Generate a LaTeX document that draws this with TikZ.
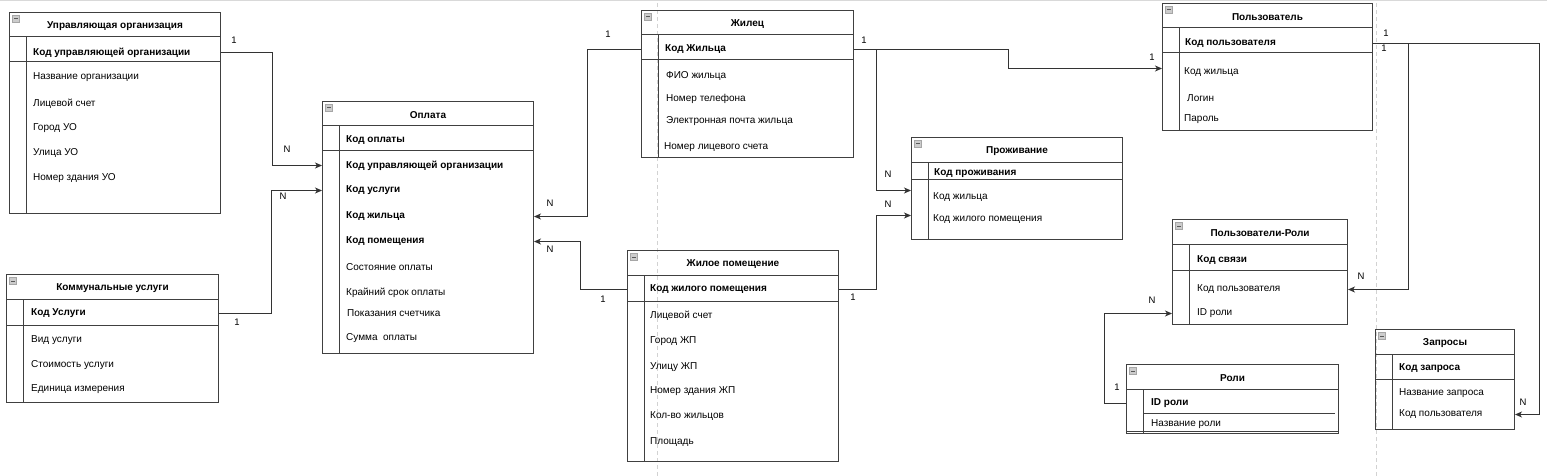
\documentclass[tikz,border=0pt]{standalone}
\usepackage{fontspec}
\setmainfont{Liberation Sans}
\usetikzlibrary{arrows.meta,calc,positioning}

\begin{document}
\begin{tikzpicture}[x=1pt, y=-1pt,
  tbl/.style={draw=black!75, line width=1pt, inner sep=0, anchor=north west},
  sep/.style={draw=black!75, line width=1pt},
  icon/.style={draw=gray!70, fill=gray!40, minimum size=7pt, inner sep=0},
  ttl/.style={font=\fontsize{10}{12}\selectfont\bfseries, inner sep=0, yshift=-1.5pt},
  pk/.style={anchor=west, inner sep=0, yshift=-1.5pt, font=\fontsize{10}{12}\selectfont\bfseries},
  fld/.style={anchor=west, inner sep=0, yshift=-1.5pt, font=\fontsize{10}{12}\selectfont},
  card/.style={inner sep=0, font=\fontsize{9.5}{11}\selectfont},
  rel/.style={draw=black!80, line width=1pt, -{Stealth[length=7pt, width=6pt, inset=2pt]}},
  page/.style={draw=gray!35, line width=0.8pt, dash pattern=on 4pt off 3pt}]

\useasboundingbox (0,0) rectangle (1547,476);

% Границы страниц
\draw[draw=gray!30, line width=1pt] (0,1) -- (1547,1);
\draw[page] (657,3) -- (657,476);
\draw[page] (1376,3) -- (1376,476);

% Таблицы: имя/x/y/ширина/высота/строка ключа/заголовок
\foreach \n/\x/\y/\w/\h/\p/\t in {
    uo/9/12/211/201/25/{Управляющая организация},
    ku/6/274/212/128/26/{Коммунальные услуги},
    op/322/101/211/252/25/{Оплата},
    zh/641/10/212/147/25/{Жилец},
    zp/627/250/211/211/26/{Жилое помещение},
    pr/911/137/211/102/17/{Проживание},
    us/1162/3/210/127/25/{Пользователь},
    ur/1172/219/175/105/26/{Пользователи-Роли},
    zq/1375/329/139/100/25/{Запросы}} {
  \node[tbl, minimum width=\w pt, minimum height=\h pt] (\n) at (\x,\y) {};
  \draw[sep] ([yshift=-25pt]\n.north west) -- ([yshift=-25pt]\n.north east);
  \draw[sep] ([yshift=-25pt-\p pt]\n.north west) -- ([yshift=-25pt-\p pt]\n.north east);
  \draw[sep] ([xshift=17pt, yshift=-25pt]\n.north west) -- ([xshift=17pt]\n.south west);
  \node[icon] (\n-i) at ([xshift=7pt, yshift=-7pt]\n.north west) {};
  \draw[black!65, line width=1pt] ([xshift=-2pt]\n-i.center) -- ([xshift=2pt]\n-i.center);
  \node[ttl] (\n-t) at ([yshift=-12.5pt]\n.north) {\t};
}

% Роли (короткая линия ключа, двойная нижняя граница)
\node[tbl, minimum width=212pt, minimum height=69pt] (ro) at (1126,364) {};
\draw[sep] ([yshift=-25pt]ro.north west) -- ([yshift=-25pt]ro.north east);
\draw[sep] ([xshift=17pt, yshift=-49pt]ro.north west) -- ([xshift=-4pt, yshift=-49pt]ro.north east);
\draw[sep] ([xshift=17pt, yshift=-25pt]ro.north west) -- ([xshift=17pt]ro.south west);
\draw[sep] ([yshift=2.5pt]ro.south west) -- ([yshift=2.5pt]ro.south east);
\node[icon] (ro-i) at ([xshift=7pt, yshift=-7pt]ro.north west) {};
\draw[black!65, line width=1pt] ([xshift=-2pt]ro-i.center) -- ([xshift=2pt]ro-i.center);
\node[ttl] (ro-t) at ([yshift=-12.5pt]ro.north) {Роли};

% Управляющая организация
\node[pk]  (uo-pk) at (33,51)  {Код управляющей организации};
\node[fld] (uo-f1) at (33,76)  {Название организации};
\node[fld] (uo-f2) at (33,102) {Лицевой счет};
\node[fld] (uo-f3) at (33,127) {Город УО};
\node[fld] (uo-f4) at (33,152) {Улица УО};
\node[fld] (uo-f5) at (33,177) {Номер здания УО};

% Коммунальные услуги
\node[pk]  (ku-pk) at (31,312) {Код Услуги};
\node[fld] (ku-f1) at (31,339) {Вид услуги};
\node[fld] (ku-f2) at (31,364) {Стоимость услуги};
\node[fld] (ku-f3) at (31,388) {Единица измерения};

% Оплата
\node[pk]  (op-pk) at (346,139) {Код оплаты};
\node[pk]  (op-f1) at (346,164) {Код управляющей организации};
\node[pk]  (op-f2) at (346,189) {Код услуги};
\node[pk]  (op-f3) at (346,215) {Код жильца};
\node[pk]  (op-f4) at (346,240) {Код помещения};
\node[fld] (op-f5) at (346,266) {Состояние оплаты};
\node[fld] (op-f6) at (346,291) {Крайний срок оплаты};
\node[fld] (op-f7) at (347,312) {Показания счетчика};
\node[fld] (op-f8) at (346,337) {Сумма\ \ оплаты};

% Жилец
\node[pk]  (zh-pk) at (665,48)  {Код Жильца};
\node[fld] (zh-f1) at (666,75)  {ФИО жильца};
\node[fld] (zh-f2) at (666,97)  {Номер телефона};
\node[fld] (zh-f3) at (666,120) {Электронная почта жильца};
\node[fld] (zh-f4) at (664,146) {Номер лицевого счета};

% Жилое помещение
\node[pk]  (zp-pk) at (650,288) {Код жилого помещения};
\node[fld] (zp-f1) at (650,314) {Лицевой счет};
\node[fld] (zp-f2) at (650,340) {Город ЖП};
\node[fld] (zp-f3) at (650,366) {Улицу ЖП};
\node[fld] (zp-f4) at (650,390) {Номер здания ЖП};
\node[fld] (zp-f5) at (650,415) {Кол-во жильцов};
\node[fld] (zp-f6) at (650,441) {Площадь};

% Проживание
\node[pk]  (pr-pk) at (934,172) {Код проживания};
\node[fld] (pr-f1) at (933,196) {Код жильца};
\node[fld] (pr-f2) at (933,218) {Код жилого помещения};

% Пользователь
\node[pk]  (us-pk) at (1185,42)  {Код пользователя};
\node[fld] (us-f1) at (1184,71)  {Код жильца};
\node[fld] (us-f2) at (1187,97)  {Логин};
\node[fld] (us-f3) at (1184,118) {Пароль};

% Пользователи-Роли
\node[pk]  (ur-pk) at (1197,259) {Код связи};
\node[fld] (ur-f1) at (1197,288) {Код пользователя};
\node[fld] (ur-f2) at (1197,312) {ID роли};

% Роли
\node[pk]  (ro-pk) at (1151,402) {ID роли};
\node[fld] (ro-f1) at (1151,423) {Название роли};

% Запросы
\node[pk]  (zq-pk) at (1399,367) {Код запроса};
\node[fld] (zq-f1) at (1399,392) {Название запроса};
\node[fld] (zq-f2) at (1399,413) {Код пользователя};

% Связи
\draw[rel] (uo.east |- uo-pk) -- ++(51,0) |- (op.west |- op-f1);
\draw[rel] (ku.east |- ku-pk) -- ++(52,0) |- (op.west |- op-f2);
\draw[rel] (zh.west |- zh-pk) -- ++(-54,0) |- (op.east |- op-f3);
\draw[rel] (zp.west |- zp-pk) -- ++(-47,0) |- (op.east |- op-f4);
\draw[rel] (zh.east |- zh-pk) -- ++(22,0) |- ([yshift=7pt]pr.west |- pr-f1);
\draw[rel] (zh.east |- zh-pk) -- ++(154,0) |- ([yshift=4pt]us.west |- us-f1);
\draw[rel] (zp.east |- zp-pk) -- ++(37,0) |- ([yshift=4pt]pr.west |- pr-f2);
\draw[rel] (us.east |- us-pk) -- ++(35,0) |- (ur.east |- ur-f1);
\draw[rel] (us.east |- us-pk) -- ++(166,0) |- (zq.east |- zq-f2);
\draw[rel] (ro.west |- ro-pk) -- ++(-22,0) |- (ur.west |- ur-f2);

% Кратности
\node[card] (c1)  at (234,40)   {1};
\node[card] (c2)  at (287,149)  {N};
\node[card] (c3)  at (237,322)  {1};
\node[card] (c4)  at (283,196)  {N};
\node[card] (c5)  at (608,34)   {1};
\node[card] (c6)  at (550,203)  {N};
\node[card] (c7)  at (603,299)  {1};
\node[card] (c8)  at (550,249)  {N};
\node[card] (c9)  at (864,40)   {1};
\node[card] (c10) at (888,174)  {N};
\node[card] (c11) at (1152,57)  {1};
\node[card] (c12) at (853,297)  {1};
\node[card] (c13) at (888,204)  {N};
\node[card] (c14) at (1386,33)  {1};
\node[card] (c15) at (1384,48)  {1};
\node[card] (c16) at (1361,276) {N};
\node[card] (c17) at (1523,402) {N};
\node[card] (c18) at (1117,387) {1};
\node[card] (c19) at (1152,300) {N};

\end{tikzpicture}
\end{document}
